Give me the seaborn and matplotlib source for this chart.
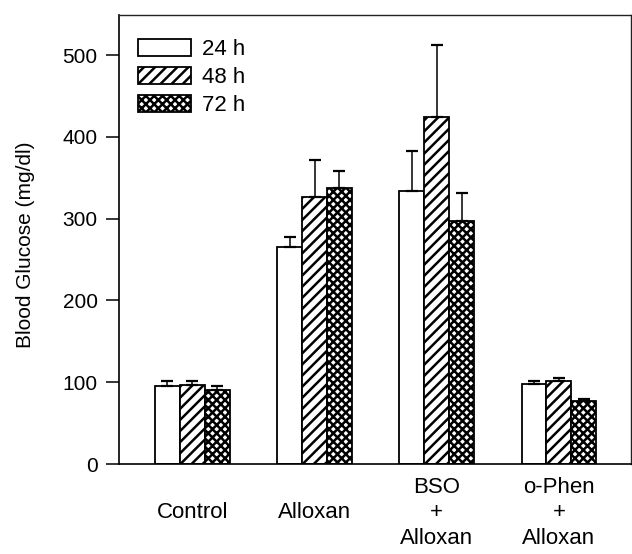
import matplotlib
matplotlib.use("Agg")
import matplotlib.pyplot as plt
import seaborn as sns
import pandas as pd

groups = ["Control", "Alloxan", "BSO\n+\nAlloxan", "o-Phen\n+\nAlloxan"]
times = ["24 h", "48 h", "72 h"]
mean_24 = [95, 265, 334, 98]
mean_48 = [97, 327, 424, 101]
mean_72 = [90, 338, 297, 77]
err_24 = [7, 13, 49, 3]
err_48 = [4, 45, 88, 4]
err_72 = [5, 20, 34, 2]
yticks = [0, 100, 200, 300, 400, 500]

means = [mean_24, mean_48, mean_72]
errs = [err_24, err_48, err_72]
rows = []
for t, m in zip(times, means):
    for g, v in zip(groups, m):
        rows.append({"group": g, "time": t, "value": v})
df = pd.DataFrame(rows)

sns.set_style("ticks")
plt.rcParams['font.family'] = ['Liberation Sans', 'DejaVu Sans']
plt.rcParams['hatch.linewidth'] = 1.8
plt.rcParams['hatch.color'] = 'black'
for k in ['text.color', 'axes.labelcolor', 'xtick.color', 'ytick.color',
          'axes.edgecolor']:
    plt.rcParams[k] = 'black'

fig = plt.figure(figsize=(6.32, 5.54), dpi=100)
ax = fig.add_axes([119/632, 1-464/554, 512/632, 449/554])

sns.barplot(data=df, x="group", y="value", hue="time", order=groups,
            hue_order=times, palette=["white"]*3, width=0.61, gap=0,
            edgecolor="black", linewidth=1.3, legend=False, ax=ax,
            errorbar=None, saturation=1)

hatches = [None, "///", "xxxx"]
for cont, h, e in zip(ax.containers, hatches, errs):
    xs, ys = [], []
    for bar in cont.patches:
        if h:
            bar.set_hatch(h)
        bar.set_edgecolor("black")
        xs.append(bar.get_x() + bar.get_width()/2)
        ys.append(bar.get_height())
    ax.errorbar(xs, ys, yerr=[[0]*len(e), e], fmt="none", ecolor="black",
                elinewidth=1.1, capsize=4.3, capthick=1.6, zorder=1)

ax.set_xlim(-0.6, 3.59)
ax.set_ylim(0, 549)
ax.set_yticks(yticks)
ax.set_xlabel("")
ax.set_ylabel("Blood Glucose (mg/dl)", fontsize=15)
ax.yaxis.set_label_coords(-0.165, 0.488)
ax.tick_params(axis="y", direction="out", length=9.4, width=1.1, pad=6,
               labelsize=15, colors="black")
ax.tick_params(axis="x", length=0, pad=35, labelsize=16, colors="black")
for lbl in ax.get_xticklabels():
    lbl.set_verticalalignment("center")
    lbl.set_multialignment("center")
    lbl.set_linespacing(1.28)

for s in ["left", "bottom"]:
    ax.spines[s].set_linewidth(1.2)
    ax.spines[s].set_color("black")
for s in ["top", "right"]:
    ax.spines[s].set_visible(True)
    ax.spines[s].set_linewidth(1.0)
    ax.spines[s].set_color("#222222")

leg = ax.legend(ax.containers, times, loc="upper left",
                bbox_to_anchor=(0.037, 0.947), frameon=False, fontsize=16,
                handlelength=2.4, handleheight=0.8, labelspacing=0.3,
                handletextpad=0.5, borderpad=0, borderaxespad=0)

fig.savefig("out.png", dpi=100)
